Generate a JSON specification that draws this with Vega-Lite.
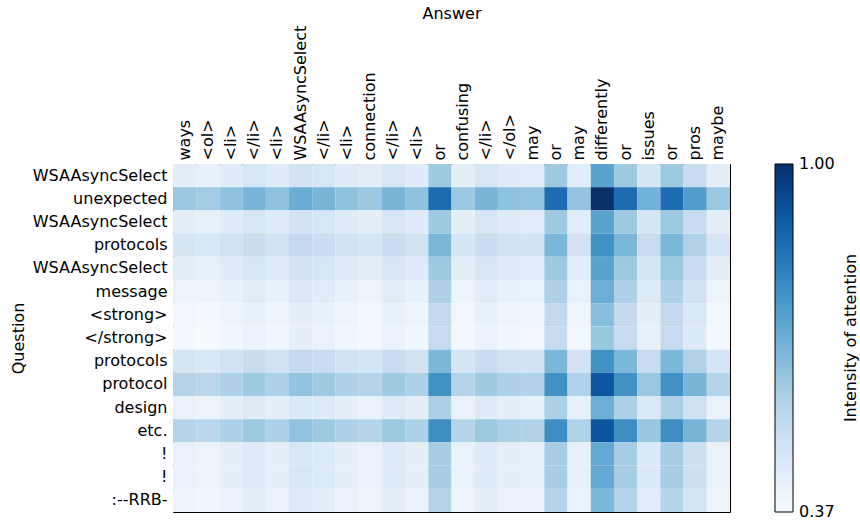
{
  "$schema": "https://vega.github.io/schema/vega-lite/v6.json",
  "width": 557,
  "height": 348,
  "autosize": "none",
  "padding": {"left": 173, "top": 164, "right": 130, "bottom": 10},
  "background": "white",
  "config": {"font": "DejaVu Sans", "view": {"stroke": "black", "strokeWidth": 1}},
  "data": {"values": [
{"r":0,"c":0,"v":0.433},{"r":0,"c":1,"v":0.424},{"r":0,"c":2,"v":0.447},{"r":0,"c":3,"v":0.471},{"r":0,"c":4,"v":0.447},{"r":0,"c":5,"v":0.487},{"r":0,"c":6,"v":0.471},{"r":0,"c":7,"v":0.447},{"r":0,"c":8,"v":0.433},{"r":0,"c":9,"v":0.471},{"r":0,"c":10,"v":0.447},{"r":0,"c":11,"v":0.606},{"r":0,"c":12,"v":0.433},{"r":0,"c":13,"v":0.471},{"r":0,"c":14,"v":0.447},{"r":0,"c":15,"v":0.442},{"r":0,"c":16,"v":0.606},{"r":0,"c":17,"v":0.442},{"r":0,"c":18,"v":0.717},{"r":0,"c":19,"v":0.606},{"r":0,"c":20,"v":0.478},{"r":0,"c":21,"v":0.606},{"r":0,"c":22,"v":0.521},{"r":0,"c":23,"v":0.433},
{"r":1,"c":0,"v":0.609},{"r":1,"c":1,"v":0.597},{"r":1,"c":2,"v":0.629},{"r":1,"c":3,"v":0.664},{"r":1,"c":4,"v":0.629},{"r":1,"c":5,"v":0.686},{"r":1,"c":6,"v":0.664},{"r":1,"c":7,"v":0.629},{"r":1,"c":8,"v":0.609},{"r":1,"c":9,"v":0.664},{"r":1,"c":10,"v":0.629},{"r":1,"c":11,"v":0.855},{"r":1,"c":12,"v":0.609},{"r":1,"c":13,"v":0.664},{"r":1,"c":14,"v":0.629},{"r":1,"c":15,"v":0.622},{"r":1,"c":16,"v":0.855},{"r":1,"c":17,"v":0.622},{"r":1,"c":18,"v":1.0},{"r":1,"c":19,"v":0.855},{"r":1,"c":20,"v":0.673},{"r":1,"c":21,"v":0.855},{"r":1,"c":22,"v":0.735},{"r":1,"c":23,"v":0.609},
{"r":2,"c":0,"v":0.433},{"r":2,"c":1,"v":0.424},{"r":2,"c":2,"v":0.447},{"r":2,"c":3,"v":0.471},{"r":2,"c":4,"v":0.447},{"r":2,"c":5,"v":0.487},{"r":2,"c":6,"v":0.471},{"r":2,"c":7,"v":0.447},{"r":2,"c":8,"v":0.433},{"r":2,"c":9,"v":0.471},{"r":2,"c":10,"v":0.447},{"r":2,"c":11,"v":0.606},{"r":2,"c":12,"v":0.433},{"r":2,"c":13,"v":0.471},{"r":2,"c":14,"v":0.447},{"r":2,"c":15,"v":0.442},{"r":2,"c":16,"v":0.606},{"r":2,"c":17,"v":0.442},{"r":2,"c":18,"v":0.717},{"r":2,"c":19,"v":0.606},{"r":2,"c":20,"v":0.478},{"r":2,"c":21,"v":0.606},{"r":2,"c":22,"v":0.521},{"r":2,"c":23,"v":0.433},
{"r":3,"c":0,"v":0.477},{"r":3,"c":1,"v":0.468},{"r":3,"c":2,"v":0.492},{"r":3,"c":3,"v":0.517},{"r":3,"c":4,"v":0.492},{"r":3,"c":5,"v":0.534},{"r":3,"c":6,"v":0.517},{"r":3,"c":7,"v":0.492},{"r":3,"c":8,"v":0.477},{"r":3,"c":9,"v":0.517},{"r":3,"c":10,"v":0.492},{"r":3,"c":11,"v":0.660},{"r":3,"c":12,"v":0.477},{"r":3,"c":13,"v":0.517},{"r":3,"c":14,"v":0.492},{"r":3,"c":15,"v":0.486},{"r":3,"c":16,"v":0.660},{"r":3,"c":17,"v":0.486},{"r":3,"c":18,"v":0.767},{"r":3,"c":19,"v":0.660},{"r":3,"c":20,"v":0.524},{"r":3,"c":21,"v":0.660},{"r":3,"c":22,"v":0.570},{"r":3,"c":23,"v":0.477},
{"r":4,"c":0,"v":0.433},{"r":4,"c":1,"v":0.424},{"r":4,"c":2,"v":0.447},{"r":4,"c":3,"v":0.471},{"r":4,"c":4,"v":0.447},{"r":4,"c":5,"v":0.487},{"r":4,"c":6,"v":0.471},{"r":4,"c":7,"v":0.447},{"r":4,"c":8,"v":0.433},{"r":4,"c":9,"v":0.471},{"r":4,"c":10,"v":0.447},{"r":4,"c":11,"v":0.606},{"r":4,"c":12,"v":0.433},{"r":4,"c":13,"v":0.471},{"r":4,"c":14,"v":0.447},{"r":4,"c":15,"v":0.442},{"r":4,"c":16,"v":0.606},{"r":4,"c":17,"v":0.442},{"r":4,"c":18,"v":0.717},{"r":4,"c":19,"v":0.606},{"r":4,"c":20,"v":0.478},{"r":4,"c":21,"v":0.606},{"r":4,"c":22,"v":0.521},{"r":4,"c":23,"v":0.433},
{"r":5,"c":0,"v":0.408},{"r":5,"c":1,"v":0.400},{"r":5,"c":2,"v":0.421},{"r":5,"c":3,"v":0.444},{"r":5,"c":4,"v":0.421},{"r":5,"c":5,"v":0.459},{"r":5,"c":6,"v":0.444},{"r":5,"c":7,"v":0.421},{"r":5,"c":8,"v":0.408},{"r":5,"c":9,"v":0.444},{"r":5,"c":10,"v":0.421},{"r":5,"c":11,"v":0.572},{"r":5,"c":12,"v":0.408},{"r":5,"c":13,"v":0.444},{"r":5,"c":14,"v":0.421},{"r":5,"c":15,"v":0.416},{"r":5,"c":16,"v":0.572},{"r":5,"c":17,"v":0.416},{"r":5,"c":18,"v":0.685},{"r":5,"c":19,"v":0.572},{"r":5,"c":20,"v":0.451},{"r":5,"c":21,"v":0.572},{"r":5,"c":22,"v":0.492},{"r":5,"c":23,"v":0.408},
{"r":6,"c":0,"v":0.389},{"r":6,"c":1,"v":0.382},{"r":6,"c":2,"v":0.400},{"r":6,"c":3,"v":0.421},{"r":6,"c":4,"v":0.400},{"r":6,"c":5,"v":0.434},{"r":6,"c":6,"v":0.421},{"r":6,"c":7,"v":0.400},{"r":6,"c":8,"v":0.389},{"r":6,"c":9,"v":0.421},{"r":6,"c":10,"v":0.400},{"r":6,"c":11,"v":0.534},{"r":6,"c":12,"v":0.389},{"r":6,"c":13,"v":0.421},{"r":6,"c":14,"v":0.400},{"r":6,"c":15,"v":0.396},{"r":6,"c":16,"v":0.534},{"r":6,"c":17,"v":0.396},{"r":6,"c":18,"v":0.641},{"r":6,"c":19,"v":0.534},{"r":6,"c":20,"v":0.427},{"r":6,"c":21,"v":0.534},{"r":6,"c":22,"v":0.463},{"r":6,"c":23,"v":0.389},
{"r":7,"c":0,"v":0.383},{"r":7,"c":1,"v":0.375},{"r":7,"c":2,"v":0.394},{"r":7,"c":3,"v":0.415},{"r":7,"c":4,"v":0.394},{"r":7,"c":5,"v":0.427},{"r":7,"c":6,"v":0.415},{"r":7,"c":7,"v":0.394},{"r":7,"c":8,"v":0.383},{"r":7,"c":9,"v":0.415},{"r":7,"c":10,"v":0.394},{"r":7,"c":11,"v":0.528},{"r":7,"c":12,"v":0.383},{"r":7,"c":13,"v":0.415},{"r":7,"c":14,"v":0.394},{"r":7,"c":15,"v":0.390},{"r":7,"c":16,"v":0.528},{"r":7,"c":17,"v":0.390},{"r":7,"c":18,"v":0.616},{"r":7,"c":19,"v":0.528},{"r":7,"c":20,"v":0.420},{"r":7,"c":21,"v":0.528},{"r":7,"c":22,"v":0.456},{"r":7,"c":23,"v":0.383},
{"r":8,"c":0,"v":0.477},{"r":8,"c":1,"v":0.468},{"r":8,"c":2,"v":0.492},{"r":8,"c":3,"v":0.517},{"r":8,"c":4,"v":0.492},{"r":8,"c":5,"v":0.534},{"r":8,"c":6,"v":0.517},{"r":8,"c":7,"v":0.492},{"r":8,"c":8,"v":0.477},{"r":8,"c":9,"v":0.517},{"r":8,"c":10,"v":0.492},{"r":8,"c":11,"v":0.660},{"r":8,"c":12,"v":0.477},{"r":8,"c":13,"v":0.517},{"r":8,"c":14,"v":0.492},{"r":8,"c":15,"v":0.486},{"r":8,"c":16,"v":0.660},{"r":8,"c":17,"v":0.486},{"r":8,"c":18,"v":0.767},{"r":8,"c":19,"v":0.660},{"r":8,"c":20,"v":0.524},{"r":8,"c":21,"v":0.660},{"r":8,"c":22,"v":0.570},{"r":8,"c":23,"v":0.477},
{"r":9,"c":0,"v":0.559},{"r":9,"c":1,"v":0.549},{"r":9,"c":2,"v":0.575},{"r":9,"c":3,"v":0.605},{"r":9,"c":4,"v":0.575},{"r":9,"c":5,"v":0.623},{"r":9,"c":6,"v":0.605},{"r":9,"c":7,"v":0.575},{"r":9,"c":8,"v":0.559},{"r":9,"c":9,"v":0.605},{"r":9,"c":10,"v":0.575},{"r":9,"c":11,"v":0.767},{"r":9,"c":12,"v":0.559},{"r":9,"c":13,"v":0.605},{"r":9,"c":14,"v":0.575},{"r":9,"c":15,"v":0.569},{"r":9,"c":16,"v":0.767},{"r":9,"c":17,"v":0.569},{"r":9,"c":18,"v":0.906},{"r":9,"c":19,"v":0.767},{"r":9,"c":20,"v":0.613},{"r":9,"c":21,"v":0.767},{"r":9,"c":22,"v":0.665},{"r":9,"c":23,"v":0.559},
{"r":10,"c":0,"v":0.414},{"r":10,"c":1,"v":0.406},{"r":10,"c":2,"v":0.427},{"r":10,"c":3,"v":0.450},{"r":10,"c":4,"v":0.427},{"r":10,"c":5,"v":0.465},{"r":10,"c":6,"v":0.450},{"r":10,"c":7,"v":0.427},{"r":10,"c":8,"v":0.414},{"r":10,"c":9,"v":0.450},{"r":10,"c":10,"v":0.427},{"r":10,"c":11,"v":0.578},{"r":10,"c":12,"v":0.414},{"r":10,"c":13,"v":0.450},{"r":10,"c":14,"v":0.427},{"r":10,"c":15,"v":0.422},{"r":10,"c":16,"v":0.578},{"r":10,"c":17,"v":0.422},{"r":10,"c":18,"v":0.685},{"r":10,"c":19,"v":0.578},{"r":10,"c":20,"v":0.457},{"r":10,"c":21,"v":0.578},{"r":10,"c":22,"v":0.498},{"r":10,"c":23,"v":0.414},
{"r":11,"c":0,"v":0.559},{"r":11,"c":1,"v":0.548},{"r":11,"c":2,"v":0.576},{"r":11,"c":3,"v":0.606},{"r":11,"c":4,"v":0.576},{"r":11,"c":5,"v":0.625},{"r":11,"c":6,"v":0.606},{"r":11,"c":7,"v":0.576},{"r":11,"c":8,"v":0.559},{"r":11,"c":9,"v":0.606},{"r":11,"c":10,"v":0.576},{"r":11,"c":11,"v":0.773},{"r":11,"c":12,"v":0.559},{"r":11,"c":13,"v":0.606},{"r":11,"c":14,"v":0.576},{"r":11,"c":15,"v":0.570},{"r":11,"c":16,"v":0.773},{"r":11,"c":17,"v":0.570},{"r":11,"c":18,"v":0.912},{"r":11,"c":19,"v":0.773},{"r":11,"c":20,"v":0.614},{"r":11,"c":21,"v":0.773},{"r":11,"c":22,"v":0.668},{"r":11,"c":23,"v":0.559},
{"r":12,"c":0,"v":0.414},{"r":12,"c":1,"v":0.405},{"r":12,"c":2,"v":0.428},{"r":12,"c":3,"v":0.453},{"r":12,"c":4,"v":0.428},{"r":12,"c":5,"v":0.469},{"r":12,"c":6,"v":0.453},{"r":12,"c":7,"v":0.428},{"r":12,"c":8,"v":0.414},{"r":12,"c":9,"v":0.453},{"r":12,"c":10,"v":0.428},{"r":12,"c":11,"v":0.591},{"r":12,"c":12,"v":0.414},{"r":12,"c":13,"v":0.453},{"r":12,"c":14,"v":0.428},{"r":12,"c":15,"v":0.423},{"r":12,"c":16,"v":0.591},{"r":12,"c":17,"v":0.423},{"r":12,"c":18,"v":0.698},{"r":12,"c":19,"v":0.591},{"r":12,"c":20,"v":0.460},{"r":12,"c":21,"v":0.591},{"r":12,"c":22,"v":0.504},{"r":12,"c":23,"v":0.414},
{"r":13,"c":0,"v":0.414},{"r":13,"c":1,"v":0.405},{"r":13,"c":2,"v":0.428},{"r":13,"c":3,"v":0.453},{"r":13,"c":4,"v":0.428},{"r":13,"c":5,"v":0.469},{"r":13,"c":6,"v":0.453},{"r":13,"c":7,"v":0.428},{"r":13,"c":8,"v":0.414},{"r":13,"c":9,"v":0.453},{"r":13,"c":10,"v":0.428},{"r":13,"c":11,"v":0.591},{"r":13,"c":12,"v":0.414},{"r":13,"c":13,"v":0.453},{"r":13,"c":14,"v":0.428},{"r":13,"c":15,"v":0.423},{"r":13,"c":16,"v":0.591},{"r":13,"c":17,"v":0.423},{"r":13,"c":18,"v":0.698},{"r":13,"c":19,"v":0.591},{"r":13,"c":20,"v":0.460},{"r":13,"c":21,"v":0.591},{"r":13,"c":22,"v":0.504},{"r":13,"c":23,"v":0.414},
{"r":14,"c":0,"v":0.402},{"r":14,"c":1,"v":0.393},{"r":14,"c":2,"v":0.415},{"r":14,"c":3,"v":0.437},{"r":14,"c":4,"v":0.415},{"r":14,"c":5,"v":0.453},{"r":14,"c":6,"v":0.437},{"r":14,"c":7,"v":0.415},{"r":14,"c":8,"v":0.402},{"r":14,"c":9,"v":0.437},{"r":14,"c":10,"v":0.415},{"r":14,"c":11,"v":0.565},{"r":14,"c":12,"v":0.402},{"r":14,"c":13,"v":0.437},{"r":14,"c":14,"v":0.415},{"r":14,"c":15,"v":0.410},{"r":14,"c":16,"v":0.565},{"r":14,"c":17,"v":0.410},{"r":14,"c":18,"v":0.660},{"r":14,"c":19,"v":0.565},{"r":14,"c":20,"v":0.444},{"r":14,"c":21,"v":0.565},{"r":14,"c":22,"v":0.485},{"r":14,"c":23,"v":0.402}
  ]},
  "mark": {"type": "rect"},
  "encoding": {
    "x": {
      "field": "c", "type": "ordinal",
      "scale": {"paddingInner": 0, "paddingOuter": 0},
      "axis": {
        "orient": "top", "title": "Answer", "labelAngle": -90, "labelAlign": "left", "labelBaseline": "middle",
        "labelExpr": "['ways','<ol>','<li>','</li>','<li>','WSAAsyncSelect','</li>','<li>','connection','</li>','<li>','or','confusing','</li>','</ol>','may','or','may','differently','or','issues','or','pros','maybe'][datum.value]",
        "ticks": false, "domain": false, "labelPadding": 4, "labelFontSize": 16, "labelColor": "black",
        "titleFontSize": 16, "titleFontWeight": "normal", "titleColor": "black", "titlePadding": 4
      }
    },
    "y": {
      "field": "r", "type": "ordinal",
      "scale": {"paddingInner": 0, "paddingOuter": 0},
      "axis": {
        "title": "Question",
        "labelExpr": "['WSAAsyncSelect','unexpected','WSAAsyncSelect','protocols','WSAAsyncSelect','message','<strong>','</strong>','protocols','protocol','design','etc.','!','!',':--RRB-'][datum.value]",
        "ticks": false, "domain": false, "labelPadding": 6, "labelFontSize": 16, "labelColor": "black",
        "titleFontSize": 16, "titleFontWeight": "normal", "titleColor": "black", "titlePadding": 6
      }
    },
    "color": {
      "field": "v", "type": "quantitative",
      "scale": {
        "domain": [0.37, 0.44875, 0.5275, 0.60625, 0.685, 0.76375, 0.8425, 0.92125, 1.0],
        "range": ["#f7fbff", "#deebf7", "#c6dbef", "#9ecae1", "#6baed6", "#4292c6", "#2171b5", "#08519c", "#08306b"],
        "interpolate": "rgb"
      },
      "legend": {
        "title": "Intensity of attention", "orient": "right", "direction": "vertical", "offset": 45,
        "gradientLength": 348, "gradientThickness": 18, "gradientStrokeColor": "black", "gradientStrokeWidth": 1,
        "values": [0.37, 1.0], "format": ".2f", "labelFontSize": 16, "labelColor": "black", "labelOffset": 6,
        "labelBaseline": "middle",
        "titleOrient": "right", "titleFontSize": 16, "titleFontWeight": "normal", "titleColor": "black",
        "titleAnchor": "middle", "titleBaseline": "top", "titlePadding": 8,
        "encode": {
          "title": {"update": {"angle": {"value": 270}}},
          "labels": {"update": {"baseline": {"value": "middle"}}}
        }
      }
    }
  }
}
